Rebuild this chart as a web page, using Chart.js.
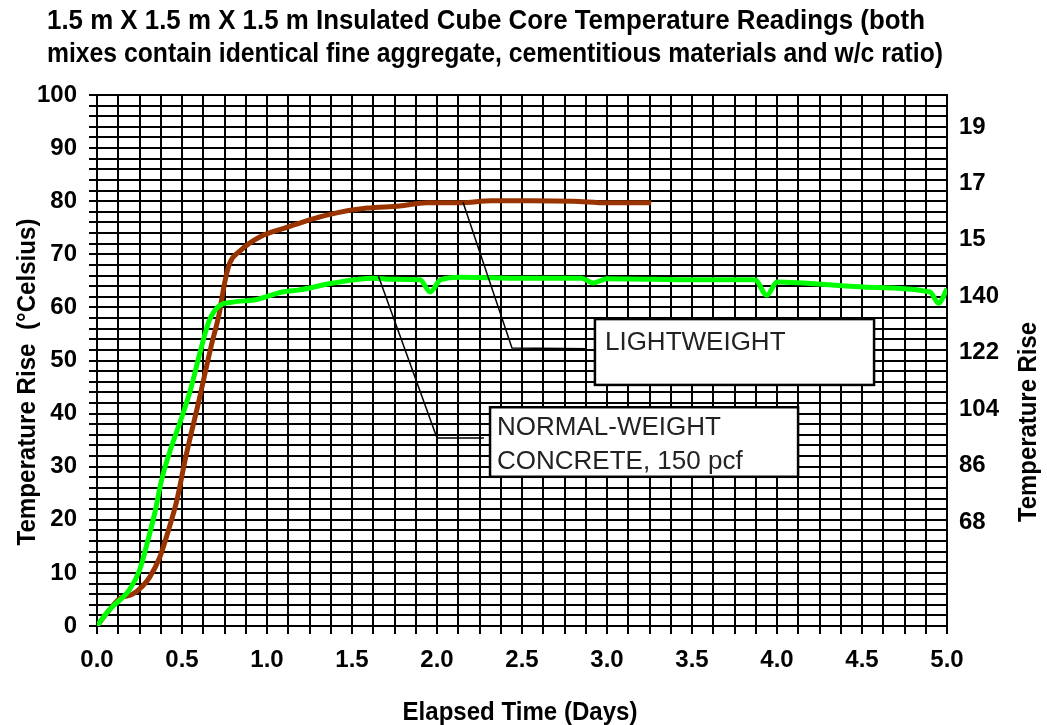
<!DOCTYPE html>
<html>
<head>
<meta charset="utf-8">
<script src="https://cdn.jsdelivr.net/npm/chart.js@4.4.1/dist/chart.umd.min.js"></script>
<style>
  body { margin: 0; background: #fff; }
  canvas { display: block; }
</style>
</head>
<body>
<canvas id="cube_canvas" width="1047" height="725"></canvas>
<script>
// lightweight mix (brown)
const lightDays = [0, 0.06, 0.135, 0.21, 0.27, 0.31, 0.37, 0.42, 0.47, 0.52, 0.6, 0.67, 0.72, 0.75, 0.78, 0.84, 0.96, 1.12, 1.25, 1.41, 1.59, 1.78, 1.94, 2.14, 2.32, 2.55, 2.8, 3.0, 3.26];
const lightTemp = [0, 2.5, 5.2, 6.0, 7.6, 9.2, 13, 18, 23.7, 31.5, 42.5, 52.5, 59, 64.5, 68.3, 70.6, 73.3, 75.1, 76.5, 77.8, 78.7, 79.1, 79.7, 79.7, 80.1, 80.1, 80.0, 79.7, 79.7];

// normal-weight concrete, 150 pcf (green)
const normalDays = [0, 0.05, 0.09, 0.19, 0.25, 0.3, 0.34, 0.38, 0.43, 0.49, 0.55, 0.61, 0.66, 0.72, 0.8, 0.94, 1.09, 1.19, 1.39, 1.62, 1.74, 1.9, 1.96, 2.02, 2.14, 2.5, 2.85, 2.92, 3.0, 3.55, 3.87, 3.94, 4.0, 4.53, 4.9, 4.95, 5.0];
const normalTemp = [0, 2.2, 3.6, 6.8, 10.5, 16.2, 21.3, 27.5, 33, 38.5, 44.5, 52, 57.5, 60.3, 61, 61.5, 62.9, 63.3, 64.6, 65.5, 65.3, 65.2, 62.9, 65.2, 65.7, 65.5, 65.5, 64.6, 65.4, 65.2, 65.2, 62.3, 64.8, 63.8, 62.9, 60.8, 63.5];

// right axis (Fahrenheit, labels as printed)
const rightTickValues = [68, 86, 104, 122, 140, 158, 176, 194];
const rightTickLabels = ['68', '86', '104', '122', '140', '15', '17', '19'];

const titleLines = [
    '1.5 m X 1.5 m X 1.5 m Insulated Cube Core Temperature Readings (both',
    'mixes contain identical fine aggregate, cementitious materials and w/c ratio)'
];

// callouts in data units: leader points, box corners, text
const callouts = [
    {
        leader: [[2.153, 79.8], [2.441, 52.35], [2.882, 52.2]],
        box: [2.929, 57.8, 4.571, 45.4],
        text: ['LIGHTWEIGHT'],
        textAt: [2.988, 53.3]
    },
    {
        leader: [[1.653, 66.1], [2.0, 35.4], [2.276, 35.4]],
        box: [2.312, 41.2, 4.124, 28.1],
        text: ['NORMAL-WEIGHT', 'CONCRETE, 150 pcf'],
        textAt: [2.353, 37.3]
    }
];

function toPoints(xs, ys) {
    return xs.map((x, i) => ({ x: x, y: ys[i] }));
}

const calloutPlugin = {
    id: 'callouts',
    afterDatasetsDraw(chart) {
        const ctx = chart.ctx;
        const xs = chart.scales.x;
        const ys = chart.scales.y;
        ctx.save();
        callouts.forEach(c => {
            // leader line
            ctx.strokeStyle = '#000';
            ctx.lineWidth = 1.5;
            ctx.beginPath();
            c.leader.forEach((p, i) => {
                const px = xs.getPixelForValue(p[0]);
                const py = ys.getPixelForValue(p[1]);
                if (i === 0) ctx.moveTo(px, py); else ctx.lineTo(px, py);
            });
            ctx.stroke();
            // box
            const x1 = xs.getPixelForValue(c.box[0]);
            const y1 = ys.getPixelForValue(c.box[1]);
            const x2 = xs.getPixelForValue(c.box[2]);
            const y2 = ys.getPixelForValue(c.box[3]);
            ctx.fillStyle = '#fff';
            ctx.fillRect(x1, y1, x2 - x1, y2 - y1);
            ctx.lineWidth = 2.5;
            ctx.strokeRect(x1, y1, x2 - x1, y2 - y1);
            // text
            ctx.fillStyle = '#222';
            ctx.font = '26px "Liberation Sans", Arial, sans-serif';
            ctx.textBaseline = 'middle';
            ctx.textAlign = 'left';
            const tx = xs.getPixelForValue(c.textAt[0]);
            const ty = ys.getPixelForValue(c.textAt[1]);
            c.text.forEach((t, i) => ctx.fillText(t, tx, ty + i * 34));
        });
        ctx.restore();
    },
    afterDraw(chart) {
        const ctx = chart.ctx;
        ctx.save();
        ctx.fillStyle = '#000';
        ctx.textBaseline = 'middle';
        ctx.textAlign = 'left';
        ctx.font = 'bold 27px "Liberation Sans", Arial, sans-serif';
        ctx.fillText(titleLines[0], 47, 22, 878);
        ctx.fillText(titleLines[1], 47, 55, 896);

        // x axis title
        ctx.textAlign = 'center';
        ctx.font = 'bold 25px "Liberation Sans", Arial, sans-serif';
        ctx.fillText('Elapsed Time (Days)', 520, 713, 235);

        // left y title
        ctx.save();
        ctx.translate(28, 382);
        ctx.rotate(-Math.PI / 2);
        ctx.fillText('Temperature Rise  (\u00B0Celsius)', 0, 0, 327);
        ctx.restore();

        // right y title
        ctx.save();
        ctx.translate(1029, 422);
        ctx.rotate(-Math.PI / 2);
        ctx.fillText('Temperature Rise', 0, 0, 200);
        ctx.restore();
        ctx.restore();
    }
};

function createGraph(canvasId) {
    const ctx = document.getElementById(canvasId);
    const tickFont = { family: '"Liberation Sans", Arial, sans-serif', size: 24, weight: 'bold' };

    new Chart(ctx, {
        type: 'line',
        data: {
            datasets: [{
                label: 'NORMAL-WEIGHT CONCRETE, 150 pcf',
                data: toPoints(normalDays, normalTemp),
                borderColor: '#00ff00',
                borderWidth: 5,
                pointRadius: 0,
                cubicInterpolationMode: 'monotone',
                yAxisID: 'y'
            }, {
                label: 'LIGHTWEIGHT',
                data: toPoints(lightDays, lightTemp),
                borderColor: '#993300',
                borderWidth: 5,
                pointRadius: 0,
                cubicInterpolationMode: 'monotone',
                yAxisID: 'y'
            }]
        },
        options: {
            responsive: false,
            animation: false,
            layout: { padding: { top: 95, left: 0, right: 0, bottom: 0 } },
            scales: {
                x: {
                    type: 'linear',
                    min: 0,
                    max: 5,
                    afterFit(s) { s.height = 99; },
                    grid: { color: '#000', lineWidth: 2, tickLength: 8, tickColor: '#000' },
                    border: { color: '#000', width: 2 },
                    ticks: {
                        stepSize: 0.125,
                        autoSkip: false,
                        maxRotation: 0,
                        padding: 12,
                        color: '#000',
                        font: tickFont,
                        callback: v => (Math.abs(v * 2 - Math.round(v * 2)) < 1e-6 ? v.toFixed(1) : '')
                    }
                },
                y: {
                    position: 'left',
                    min: 0,
                    max: 100,
                    afterFit(s) { s.width = 97; },
                    grid: { color: '#000', lineWidth: 2, tickLength: 8, tickColor: '#000' },
                    border: { color: '#000', width: 2 },
                    ticks: {
                        stepSize: 2,
                        autoSkip: false,
                        padding: 12,
                        color: '#000',
                        font: tickFont,
                        callback: v => (v % 10 === 0 ? String(v) : '')
                    }
                },
                y2: {
                    position: 'right',
                    min: 34.8,
                    max: 204.2,
                    afterFit(s) { s.width = 100; },
                    afterBuildTicks(s) { s.ticks = rightTickValues.map(v => ({ value: v })); },
                    grid: { display: false, drawOnChartArea: false },
                    border: { display: true, color: '#000', width: 2 },
                    ticks: {
                        padding: 4,
                        color: '#000',
                        font: tickFont,
                        callback: (v, i) => rightTickLabels[i]
                    }
                }
            },
            plugins: {
                legend: { display: false },
                tooltip: { enabled: false }
            }
        },
        plugins: [calloutPlugin]
    });
}

createGraph('cube_canvas');
</script>
</body>
</html>
